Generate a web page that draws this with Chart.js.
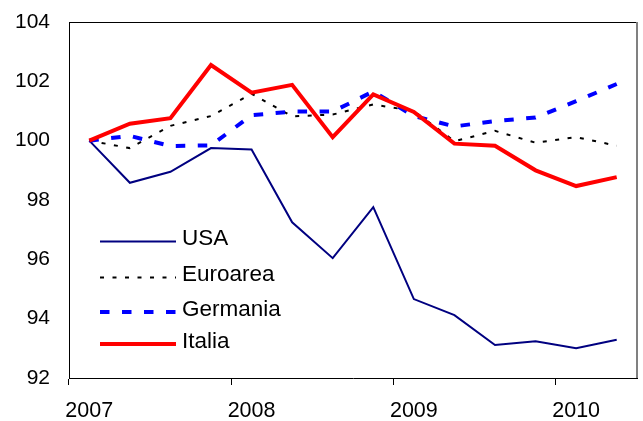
<!DOCTYPE html>
<html>
<head>
<meta charset="utf-8">
<script src="https://cdn.jsdelivr.net/npm/chart.js@4/dist/chart.umd.min.js"></script>
<style>
  html, body { margin: 0; padding: 0; background: #fff; }
  #wrap { width: 643px; height: 421px; }
</style>
</head>
<body>
<div id="wrap"><canvas id="chartPil"></canvas></div>
<script>
// Trimestri 2007 T1 - 2010 T2 (solo l'anno viene scritto sotto l'asse)
const trimestri = ['2007', '', '', '', '2008', '', '', '', '2009', '', '', '', '2010', ''];

// Indici (2007 T1 = 100)
const usa = [100, 98.58, 98.95, 99.75, 99.70, 97.25, 96.04, 97.76, 94.66, 94.12, 93.11, 93.24, 93.00, 93.29];
const euroarea = [100, 99.75, 100.50, 100.83, 101.58, 100.82, 100.88, 101.22, 101.00, 99.98, 100.33, 99.93, 100.12, 99.83];
const germania = [100, 100.16, 99.82, 99.84, 100.86, 100.98, 100.98, 101.66, 100.83, 100.48, 100.66, 100.78, 101.33, 101.91];
const italia = [100, 100.57, 100.76, 102.55, 101.62, 101.88, 100.12, 101.56, 100.97, 99.90, 99.83, 99.00, 98.47, 98.77];

const yTicks = [92, 94, 96, 98, 100, 102, 104];

Chart.defaults.font.family = '"Liberation Sans", Arial, sans-serif';
Chart.defaults.color = '#000';

// bordo superiore/destro e legenda dentro l'area del grafico
const cornice = {
  id: 'cornice',
  afterDatasetsDraw(chart) {
    const { ctx, chartArea: a } = chart;
    ctx.save();
    ctx.strokeStyle = '#000';
    ctx.lineWidth = 1;
    ctx.beginPath();
    ctx.moveTo(a.left, a.top + 0.5);
    ctx.lineTo(a.right, a.top + 0.5);
    ctx.stroke();
    ctx.strokeStyle = '#808080';
    ctx.lineWidth = 2;
    ctx.beginPath();
    ctx.moveTo(a.right, a.top);
    ctx.lineTo(a.right, a.bottom);
    ctx.stroke();

    // legenda
    const righe = [241.5, 277.5, 312, 344];
    chart.data.datasets.forEach((ds, i) => {
      const y = righe[i];
      ctx.strokeStyle = ds.borderColor;
      ctx.lineWidth = ds.borderWidth;
      ctx.setLineDash(ds.borderDash || []);
      ctx.beginPath();
      ctx.moveTo(100, y);
      ctx.lineTo(176, y);
      ctx.stroke();
      ctx.setLineDash([]);
      ctx.fillStyle = '#000';
      ctx.font = '22.5px "Liberation Sans", Arial, sans-serif';
      ctx.textBaseline = 'middle';
      ctx.fillText(ds.label, 182, y - 2.5);
    });
    ctx.restore();
  }
};

const ctxPil = document.getElementById('chartPil').getContext('2d');
const chartPil = new Chart(ctxPil, {
  type: 'line',
  data: {
    labels: trimestri,
    datasets: [
      { label: 'USA', data: usa, borderColor: '#000080', borderWidth: 2, order: 4 },
      { label: 'Euroarea', data: euroarea, borderColor: '#000', borderWidth: 2, borderDash: [4, 8.5], order: 3 },
      { label: 'Germania', data: germania, borderColor: '#0000ff', borderWidth: 4, borderDash: [9.5, 12.5], order: 2 },
      { label: 'Italia', data: italia, borderColor: '#ff0000', borderWidth: 4, order: 1 }
    ]
  },
  options: {
    responsive: true,
    maintainAspectRatio: false,
    animation: false,
    layout: { padding: { top: 22, right: 6, left: 0, bottom: 0 } },
    elements: {
      point: { radius: 0 },
      line: { tension: 0, fill: false, borderCapStyle: 'butt' }
    },
    plugins: {
      legend: { display: false },
      tooltip: { enabled: false }
    },
    scales: {
      x: {
        offset: true,
        grid: {
          offset: true,
          drawOnChartArea: false,
          tickLength: 7,
          color: c => (c.index % 4 === 0 ? '#000' : 'rgba(0,0,0,0)')
        },
        border: { display: true, color: '#000', width: 1 },
        ticks: { autoSkip: false, maxRotation: 0, font: { size: 21.5 }, padding: 13 },
        afterFit: s => { s.height = 43; s.paddingLeft = 0; s.paddingRight = 0; }
      },
      y: {
        min: 92,
        max: 104,
        afterBuildTicks: s => { s.ticks = yTicks.map(v => ({ value: v })); },
        grid: { drawOnChartArea: false, drawTicks: false },
        border: { display: true, color: '#000', width: 1 },
        ticks: { font: { size: 21 }, padding: 19 },
        afterFit: s => { s.width = 69; s.paddingTop = 0; s.paddingBottom = 0; }
      }
    }
  },
  plugins: [cornice]
});
</script>
</body>
</html>
